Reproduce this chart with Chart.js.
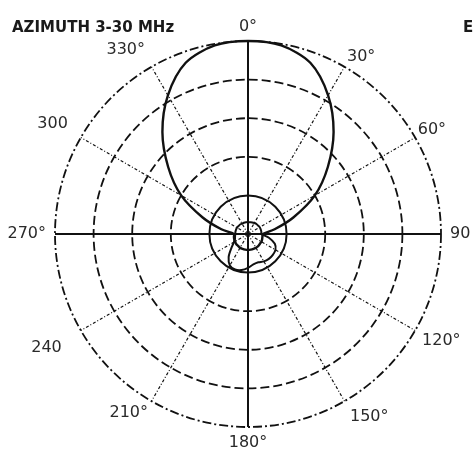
<!DOCTYPE html>
<html>
<head>
<meta charset="utf-8">
<script src="https://cdn.jsdelivr.net/npm/chart.js@4.4.1/dist/chart.umd.min.js"></script>
<style>
  html, body { margin: 0; padding: 0; background: #fff; }
  #wrap { width: 473px; height: 450px; position: relative; }
</style>
</head>
<body>
<div id="wrap"><canvas id="azimuthChart"></canvas></div>
<script>
// azimuth in degrees, 10 degree steps (clockwise from 0 at top)
const azimuthDeg = [0, 10, 20, 30, 40, 50, 60, 70, 80, 90, 100, 110, 120, 130, 140, 150, 160, 170,
                    180, 190, 200, 210, 220, 230, 240, 250, 260, 270, 280, 290, 300, 310, 320, 330, 340, 350];
const angleLabels = ['0°', '30°', '60°', '90', '120°', '150°', '180°', '210°', '240', '270°', '300', '330°'];
const ringTicks = [0, 1, 2, 3, 4, 5];

// main lobe (forward) with small back circle
const mainPattern = [5.0, 4.96, 4.72, 4.15, 3.45, 2.7, 2.0, 1.25, 0.7, 0.38, 0.38, 0.39, 0.4, 0.4, 0.41, 0.41, 0.41, 0.41,
                     0.41, 0.41, 0.41, 0.41, 0.4, 0.4, 0.39, 0.38, 0.37, 0.36, 0.7, 1.25, 2.0, 2.7, 3.45, 4.15, 4.72, 4.96];
// second trace: small forward circle and back blob
const backPattern = [0.31, 0.31, 0.32, 0.33, 0.34, 0.34, 0.35, 0.35, 0.35, 0.35, 0.55, 0.74, 0.82, 0.84, 0.84, 0.82, 0.78, 0.8,
                     0.88, 0.95, 0.98, 0.94, 0.78, 0.56, 0.42, 0.36, 0.34, 0.33, 0.33, 0.33, 0.33, 0.32, 0.32, 0.31, 0.31, 0.31];

// label distance beyond outer ring, per 30 degree label
const labelPad = [8, 5, 3, 9, 8, 11, 10, 7, 22, 9, 15, 13];

const textPlugin = {
  id: 'textPlugin',
  afterDraw(chart) {
    const ctx = chart.ctx;
    const scale = chart.scales.r;
    ctx.save();
    ctx.fillStyle = '#1a1a1a';
    ctx.font = 'bold 15px "DejaVu Sans"';
    ctx.textBaseline = 'alphabetic';
    ctx.textAlign = 'left';
    ctx.fillText('AZIMUTH 3-30 MHz', 12, 32);
    ctx.fillText('ELEVATION', 463, 32);

    ctx.font = '16px "DejaVu Sans"';
    ctx.fillStyle = '#2a2a2a';
    ctx.textBaseline = 'middle';
    angleLabels.forEach((lbl, j) => {
      const deg = j * 30;
      const p = scale.getPointPosition(j * 3, scale.drawingArea + labelPad[j]);
      let y = p.y;
      if (deg === 0 || deg === 180) {
        ctx.textAlign = 'center';
      } else if (deg < 180) {
        ctx.textAlign = 'left';
      } else {
        ctx.textAlign = 'right';
      }
      if (deg < 90 || deg > 270) y -= 6;
      else if (deg > 90 && deg < 270) y += 6;
      ctx.fillText(lbl, p.x, y);
    });
    ctx.restore();
  }
};

const ctx = document.getElementById('azimuthChart');
new Chart(ctx, {
  type: 'radar',
  data: {
    labels: azimuthDeg,
    datasets: [{
      data: mainPattern,
      borderColor: '#111',
      borderWidth: 2.4,
      pointRadius: 0,
      fill: false,
      tension: 0.3
    }, {
      data: backPattern,
      borderColor: '#111',
      borderWidth: 2,
      pointRadius: 0,
      fill: false,
      tension: 0.3
    }]
  },
  options: {
    responsive: true,
    maintainAspectRatio: false,
    animation: false,
    layout: { padding: { left: 55, right: 32, top: 41, bottom: 23 } },
    plugins: {
      legend: { display: false },
      tooltip: { enabled: false }
    },
    scales: {
      r: {
        min: ringTicks[0],
        max: ringTicks[ringTicks.length - 1],
        ticks: { display: false, stepSize: 1 },
        pointLabels: { display: false },
        grid: {
          circular: true,
          color: '#111',
          lineWidth: (c) => c.index === 1 ? 2 : 1.8
        },
        border: {
          dash: (c) => {
            if (c.index === 1) return [];
            if (c.index === 5) return [9, 3, 2, 3];
            return [9, 4];
          }
        },
        angleLines: {
          color: '#111',
          lineWidth: (c) => c.index % 9 === 0 ? 2 : (c.index % 3 === 0 ? 1.2 : 0),
          borderDash: (c) => c.index % 9 === 0 ? [] : [3, 2, 1, 2]
        }
      }
    }
  },
  plugins: [textPlugin]
});
</script>
</body>
</html>
